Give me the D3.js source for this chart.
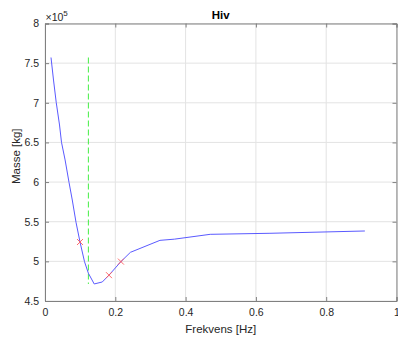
<!DOCTYPE html>
<html><head><meta charset="utf-8">
<script src="https://cdn.jsdelivr.net/npm/d3@7"></script>
<style>
html,body{margin:0;padding:0;background:#fff;}
svg{display:block;font-family:"Liberation Sans",Arial,Helvetica,sans-serif;}
</style></head>
<body>
<svg id="chart" width="398" height="343"></svg>
<script>
// Data (frequency in Hz, mass in kg)
const freq = [0.0171, 0.0242, 0.0319, 0.0413, 0.0469, 0.0572, 0.0683, 0.0776, 0.0882, 0.0996, 0.1124, 0.1234, 0.140, 0.163, 0.182, 0.216, 0.243, 0.327, 0.368, 0.470, 0.640, 0.910];
const mass = [757100, 728700, 700600, 672000, 650200, 627900, 599700, 577400, 549300, 524400, 499600, 485000, 471500, 474000, 482600, 499700, 511400, 526500, 528000, 534100, 535400, 538300];
const markFreq = [0.0996, 0.182, 0.216];
const markMass = [524400, 482600, 499700];
const vlineFreq = [0.1234, 0.1234];
const vlineMass = [757100, 471500];
const xTicks = [0, 0.2, 0.4, 0.6, 0.8, 1];
const yTicks = [450000, 500000, 550000, 600000, 650000, 700000, 750000, 800000];
const titleText = "Hiv";
const xLabel = "Frekvens [Hz]";
const yLabel = "Masse [kg]";

const W = 398, H = 343;
const m = {left: 45, right: 1.5, top: 23.5, bottom: 42};
const svg = d3.select("#chart");
const x = d3.scaleLinear().domain([0, 1]).range([m.left, W - m.right]);
const y = d3.scaleLinear().domain([450000, 800000]).range([H - m.bottom, m.top]);
const axisCol = "#262626";
const gridCol = "#e3e3e3";

// grid
const g = svg.append("g");
g.selectAll(".gx").data(xTicks).join("line")
  .attr("x1", d => x(d)).attr("x2", d => x(d))
  .attr("y1", m.top).attr("y2", H - m.bottom)
  .attr("stroke", gridCol).attr("stroke-width", 1);
g.selectAll(".gy").data(yTicks).join("line")
  .attr("y1", d => y(d)).attr("y2", d => y(d))
  .attr("x1", m.left).attr("x2", W - m.right)
  .attr("stroke", gridCol).attr("stroke-width", 1);

// axes
const fmtY = d => d3.format("")(+(d / 1e5).toFixed(2));
const xAxis = d3.axisBottom(x).tickValues(xTicks).tickSize(-4).tickPadding(8).tickFormat(d => d3.format("")(d));
const yAxis = d3.axisLeft(y).tickValues(yTicks).tickSize(-4).tickPadding(6).tickFormat(fmtY);
const xTop = d3.axisTop(x).tickValues(xTicks).tickSize(-4).tickFormat("");
const yRight = d3.axisRight(y).tickValues(yTicks).tickSize(-4).tickFormat("");

function style(sel){
  sel.selectAll("path").attr("stroke", "#808080").attr("stroke-width", 1);
  sel.selectAll(".tick line").attr("stroke", "#808080");
  sel.selectAll("text").attr("fill", axisCol).attr("font-size", "10.5px")
     .attr("font-family", "Liberation Sans, Arial, sans-serif");
}
svg.append("g").attr("transform", `translate(0,${H - m.bottom})`).call(xAxis).call(style);
svg.append("g").attr("transform", `translate(${m.left},0)`).call(yAxis).call(style);
svg.append("g").attr("transform", `translate(0,${m.top})`).call(xTop).call(style);
svg.append("g").attr("transform", `translate(${W - m.right},0)`).call(yRight).call(style);

// exponent
const ex = svg.append("text").attr("x", m.left + 0.5).attr("y", 20.5)
  .attr("fill", axisCol).attr("font-size", "10.5px");
ex.append("tspan").text("\u00d710");
ex.append("tspan").attr("dy", -5).attr("font-size", "8px").text("5");

// green dashed line
svg.append("path")
  .datum(d3.zip(vlineFreq, vlineMass))
  .attr("d", d3.line().x(d => x(d[0])).y(d => y(d[1])))
  .attr("fill", "none").attr("stroke", "#44ee44").attr("stroke-width", 1)
  .attr("stroke-dasharray", "6,3");

// blue curve
svg.append("path")
  .datum(d3.zip(freq, mass))
  .attr("d", d3.line().x(d => x(d[0])).y(d => y(d[1])))
  .attr("fill", "none").attr("stroke", "#5a5aff").attr("stroke-width", 1);

// red x markers
const s = 3;
const mk = svg.append("g");
d3.zip(markFreq, markMass).forEach(d => {
  const cx = x(d[0]), cy = y(d[1]);
  mk.append("path")
    .attr("d", `M${cx - s},${cy - s}L${cx + s},${cy + s}M${cx - s},${cy + s}L${cx + s},${cy - s}`)
    .attr("stroke", "#ff5a5a").attr("stroke-width", 0.9).attr("fill", "none");
});

// title and labels
svg.append("text").attr("x", (m.left + W - m.right) / 2).attr("y", 19)
  .attr("text-anchor", "middle").attr("font-weight", "bold").attr("font-size", "11.5px")
  .attr("fill", "#000").text(titleText);
svg.append("text").attr("x", (m.left + W - m.right) / 2).attr("y", 333)
  .attr("text-anchor", "middle").attr("font-size", "11.5px").attr("fill", axisCol).text(xLabel);
svg.append("text").attr("transform", `translate(20,${(m.top + H - m.bottom) / 2 - 6}) rotate(-90)`)
  .attr("text-anchor", "middle").attr("font-size", "11.5px").attr("fill", axisCol).text(yLabel);
</script>
</body></html>
